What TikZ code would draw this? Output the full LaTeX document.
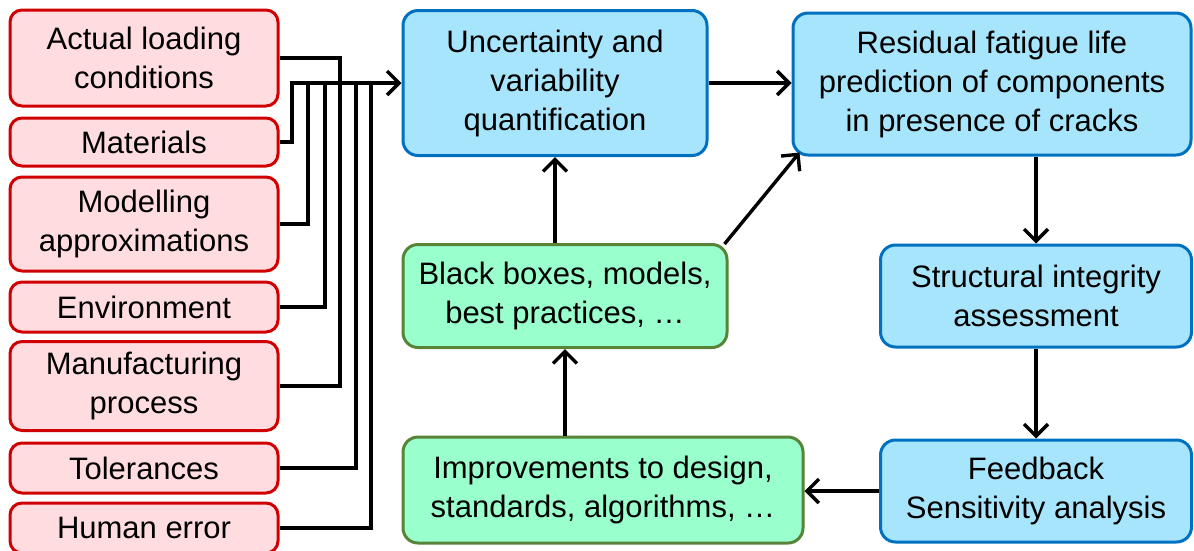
\documentclass[tikz,border=0pt]{standalone}
\usepackage{xcolor}
\usepackage{fontspec}
\setmainfont{Liberation Sans}
\usepackage{tikz}
\usetikzlibrary{arrows.meta}
\usetikzlibrary{calc}
\definecolor{redline}{RGB}{208,0,0}
\definecolor{redfill}{RGB}{255,220,224}
\definecolor{blueline}{RGB}{0,112,192}
\definecolor{bluefill}{RGB}{166,229,251}
\definecolor{greenline}{RGB}{88,132,56}
\definecolor{greenfill}{RGB}{153,255,204}
\tikzset{
  box/.style={draw, line width=3pt, rounded corners=15pt, align=center, inner sep=0pt,
    font=\fontsize{31}{39}\selectfont},
  redbox/.style={box, draw=redline, fill=redfill, rounded corners=12pt, minimum width=268pt},
  bluebox/.style={box, draw=blueline, fill=bluefill},
  greenbox/.style={box, draw=greenline, fill=greenfill},
  wire/.style={black, line width=3.4pt},
  arr/.style={wire, -{Straight Barb[length=12pt,width=24pt,line width=3.4pt]}}
}

\begin{document}
\begin{tikzpicture}[x=1pt, y=-1pt]
\useasboundingbox (0,0) rectangle (1194,550);

\node[redbox, minimum height=96pt] (R1) at (144,58) {Actual loading\\conditions};
\node[redbox, minimum height=48pt] (R2) at (144,142) {Materials};
\node[redbox, minimum height=94pt] (R3) at (144,224) {Modelling\\approximations};
\node[redbox, minimum height=50pt] (R4) at (144,307) {Environment};
\node[redbox, minimum height=89pt] (R5) at (144,386) {Manufacturing\\process};
\node[redbox, minimum height=50pt] (R6) at (144,468) {Tolerances};
\node[redbox, minimum height=50pt] (R7) at (144,528) {Human error};

\node[bluebox, minimum width=304pt, minimum height=145pt] (uq) at (555,83) {Uncertainty and\\variability\\quantification};
\node[bluebox, minimum width=398pt, minimum height=142pt] (life) at (992,84) {Residual fatigue life\\prediction of components\\in presence of cracks};
\node[bluebox, minimum width=311pt, minimum height=102pt] (sia) at (1036,296) {Structural integrity\\assessment};
\node[bluebox, minimum width=311pt, minimum height=102pt] (fb) at (1036,491) {Feedback\\Sensitivity analysis};
\node[greenbox, minimum width=324pt, minimum height=103pt] (bb) at (565,296) {Black boxes, models,\\best practices, \dots};
\node[greenbox, minimum width=400pt, minimum height=106pt] (imp) at (603,490) {Improvements to design,\\standards, algorithms, \dots};

\coordinate (bus) at (292,83);
\draw[arr] (R2.east) -| (bus) -- (uq.west);
\foreach \n/\x in {R1/340,R3/308,R4/325,R5/340,R6/356,R7/371} {
  \draw[wire] (\n.east) -| (\x,0 |- bus);
}

\draw[arr] (uq.east) -- (uq.east -| life.west);
\draw[arr] (sia.north |- life.south) -- (sia.north);
\draw[arr] (sia.south) -- (fb.north);
\draw[arr] (fb.west) -- (fb.west -| imp.east);
\draw[arr] (bb.south |- imp.north) -- (bb.south);
\draw[arr] (uq.south |- bb.north) -- (uq.south);
\draw[arr] ($(bb.north east)+(-4,1)$) -- ($(life.south west)+(8,-4)$);
\end{tikzpicture}
\end{document}
